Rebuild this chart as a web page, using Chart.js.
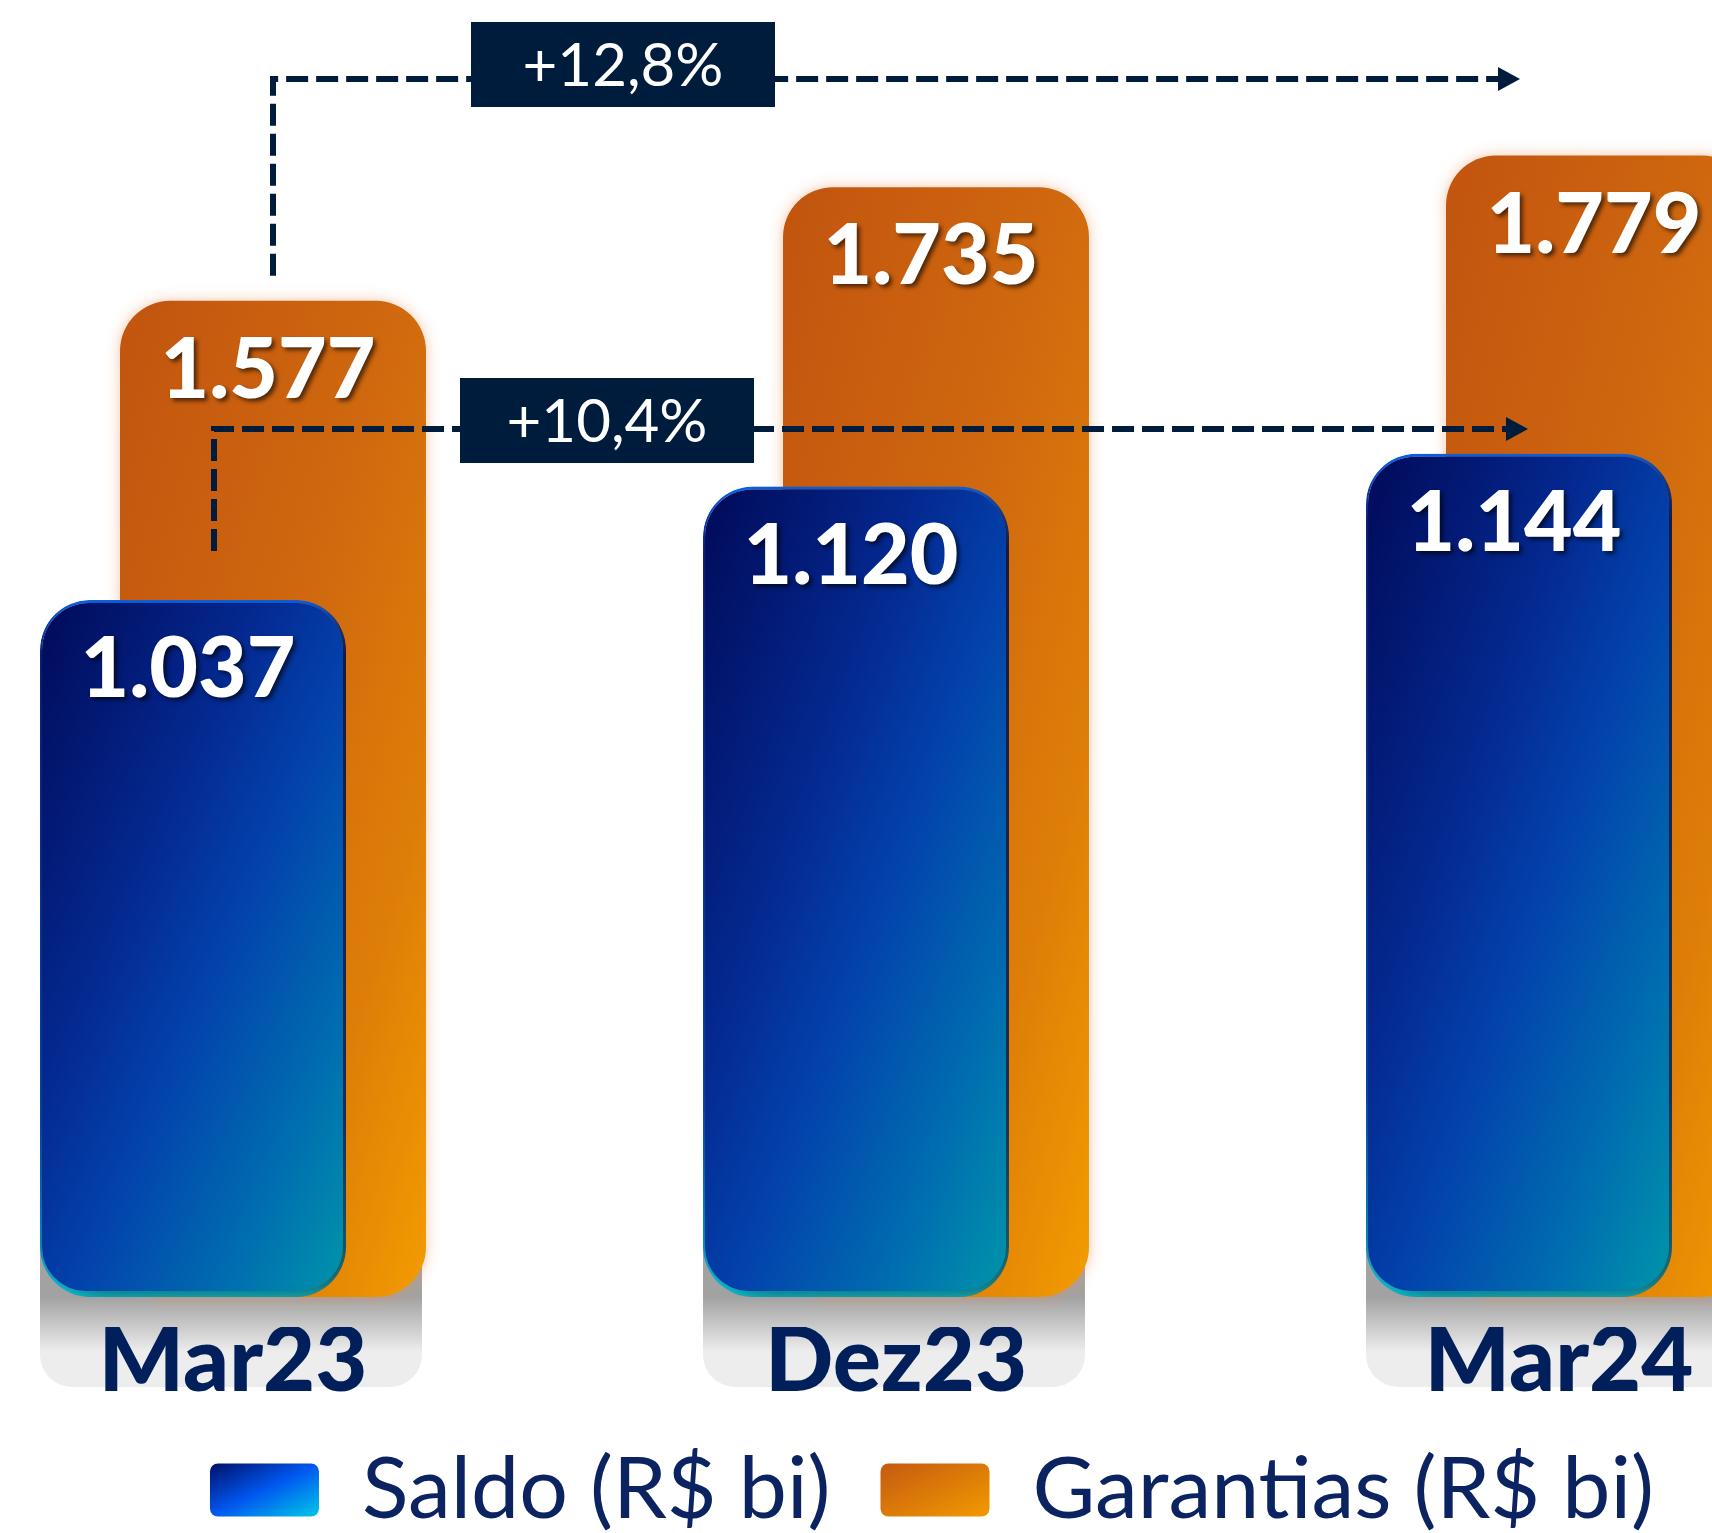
<!DOCTYPE html>
<html>
<head>
<meta charset="utf-8">
<script src="https://cdn.jsdelivr.net/npm/chart.js@4.4.1/dist/chart.umd.min.js"></script>
<style>
  html, body { margin: 0; padding: 0; background: #fff; overflow: hidden; }
  /* a few px taller than the window: the legend swatches are cut at the bottom edge in the original */
  #wrap { width: 1712px; height: 1543px; position: relative; }
</style>
</head>
<body>
<div id="wrap"><canvas id="grafico"></canvas></div>
<script>
const categorias = ['Mar23', 'Dez23', 'Mar24'];
const saldo = [1037, 1120, 1144];
const garantias = [1577, 1735, 1779];
const variacoes = ['+12,8%', '+10,4%'];

const azulTexto = '#001f5b';
const marinho = '#001c3c';

// the bars are not drawn to a common scale in the original, so each series gets its own hidden axis;
// bars start at "base", a little above the bottom of the plot area so the month labels sit under them
const eixoSaldo = { min: 505.05, max: 1476, base: 527 };
const eixoGarantias = { min: 151.32, max: 1995, base: 193 };

const CAT_PCT = 0.2413;
const BAR_PCT = 3.825;

function fmt(v) {
  return String(v).replace(/\B(?=(\d{3})+(?!\d))/g, '.');
}

// gradient from top-left to bottom-right corner, colour bands parallel to the other diagonal
function diagGrad(ctx, l, t, r, b, stops) {
  const w = r - l, h = b - t;
  const cx = (l + r) / 2, cy = (t + b) / 2;
  const k = w * h / (w * w + h * h);
  const g = ctx.createLinearGradient(cx - h * k, cy - w * k, cx + h * k, cy + w * k);
  stops.forEach(s => g.addColorStop(s[0], s[1]));
  return g;
}

function barBox(c) {
  const chart = c.chart;
  if (!chart.chartArea || c.type !== 'data') return null;
  const xs = chart.scales.x;
  const ys = chart.scales[c.dataset.yAxisID];
  const passo = xs.getPixelForValue(1) - xs.getPixelForValue(0);
  const pedaco = passo * CAT_PCT / 2;
  const cx = xs.getPixelForValue(c.dataIndex) + (c.datasetIndex === 0 ? -pedaco / 2 : pedaco / 2);
  const larg = pedaco * BAR_PCT;
  return { l: cx - larg / 2, r: cx + larg / 2, t: ys.getPixelForValue(c.parsed.y), b: ys.getPixelForValue(c.dataset.base) };
}

const stopsSaldo = [[0, '#010a58'], [0.35, '#04288f'], [0.55, '#0342ac'], [0.8, '#006eb0'], [1, '#0096aa']];
const stopsGarantias = [[0, '#c2540f'], [0.45, '#cf680f'], [0.75, '#de7e08'], [1, '#f39c00']];

function fundoSaldo(c) {
  const b = barBox(c);
  if (!b) return '#0340a8';
  return diagGrad(c.chart.ctx, b.l, b.t, b.r, b.b, stopsSaldo);
}
function bordaSaldo(c) {
  const b = barBox(c);
  if (!b) return '#0a5cff';
  const g = c.chart.ctx.createLinearGradient(0, b.t, 0, b.b);
  g.addColorStop(0, '#0a6aff');
  g.addColorStop(0.08, '#041e80');
  g.addColorStop(0.75, '#0446aa');
  g.addColorStop(0.93, '#0090c8');
  g.addColorStop(1, '#00e0ff');
  return g;
}
function fundoGarantias(c) {
  const b = barBox(c);
  if (!b) return '#d06a10';
  return diagGrad(c.chart.ctx, b.l, b.t, b.r, b.b, stopsGarantias);
}

const pontos = arr => arr.map((v, i) => ({ x: i, y: v }));

// grey plates under each group (drawn before the axis labels), and the bars' shadows
const placas = {
  id: 'placas',
  beforeDraw(chart) {
    const ctx = chart.ctx;
    const bb = chart.getDatasetMeta(0).data, ob = chart.getDatasetMeta(1).data;
    bb.forEach((b, i) => {
      const o = ob[i];
      const base = b.base;
      const l = b.x - b.width / 2, r = o.x + o.width / 2 - 4;
      const g = ctx.createLinearGradient(0, base, 0, base + 55);
      g.addColorStop(0, '#a2a2a2');
      g.addColorStop(1, '#ededed');
      ctx.save();
      ctx.fillStyle = g;
      ctx.beginPath();
      ctx.roundRect(l, base - 120, r - l, 210, 32);
      ctx.fill();
      ctx.restore();
    });
  },
  beforeDatasetDraw(chart, args) {
    const ctx = chart.ctx;
    ctx.save();
    if (args.index === 0) {
      ctx.shadowColor = 'rgba(40,20,0,0.6)';
      ctx.shadowBlur = 30;
      ctx.shadowOffsetX = 14;
      ctx.shadowOffsetY = 8;
    } else {
      ctx.shadowColor = 'rgba(240,140,80,0.5)';
      ctx.shadowBlur = 14;
    }
  },
  afterDatasetDraw(chart) {
    chart.ctx.restore();
  }
};

const rotulos = {
  id: 'rotulos',
  afterDatasetsDraw(chart) {
    const ctx = chart.ctx;
    ctx.save();
    ctx.font = '900 84px Lato';
    ctx.textAlign = 'center';
    ctx.textBaseline = 'middle';
    ctx.shadowColor = 'rgba(0,0,0,0.6)';
    ctx.shadowBlur = 4;
    ctx.shadowOffsetX = 3;
    ctx.shadowOffsetY = 3;
    ctx.fillStyle = '#fff';
    chart.data.datasets.forEach((ds, di) => {
      chart.getDatasetMeta(di).data.forEach((el, i) => {
        ctx.fillText(fmt(ds.data[i].y), el.x - 5, el.y + 70);
      });
    });
    ctx.restore();

    // dashed connectors with the growth boxes
    const bb = chart.getDatasetMeta(0).data, ob = chart.getDatasetMeta(1).data;
    const conectores = [
      { x0: ob[0].x, y0: ob[0].y - 25, y: 79, x1: bb[2].x + 1, caixa: [471, 22, 304, 85], txt: variacoes[0] },
      { x0: bb[0].x + 21, y0: bb[0].y - 49, y: 429, x1: bb[2].x + 9, caixa: [460, 378, 294, 85], txt: variacoes[1] }
    ];
    ctx.save();
    conectores.forEach(cn => {
      ctx.strokeStyle = marinho;
      ctx.fillStyle = marinho;
      ctx.lineWidth = 6;
      ctx.setLineDash([22, 8]);
      ctx.beginPath();
      ctx.moveTo(cn.x0, cn.y0);
      ctx.lineTo(cn.x0, cn.y);
      ctx.lineTo(cn.x1 - 20, cn.y);
      ctx.stroke();
      ctx.setLineDash([]);
      ctx.beginPath();
      ctx.moveTo(cn.x1, cn.y);
      ctx.lineTo(cn.x1 - 22, cn.y - 12);
      ctx.lineTo(cn.x1 - 22, cn.y + 12);
      ctx.closePath();
      ctx.fill();
      const [bx, by, bw, bh] = cn.caixa;
      ctx.fillRect(bx, by, bw, bh);
      ctx.fillStyle = '#fff';
      ctx.font = '400 60px Lato';
      ctx.textAlign = 'center';
      ctx.textBaseline = 'middle';
      ctx.fillText(cn.txt, bx + bw / 2, by + bh / 2 + 2);
    });
    ctx.restore();
  },
  beforeDraw(chart) {
    // legend swatches get the same gradients as the bars
    const lg = chart.legend;
    if (!lg || !lg.legendHitBoxes) return;
    const ctx = chart.ctx;
    const bw = lg.options.labels.boxWidth, bh = lg.options.labels.boxHeight, fs = lg.options.labels.font.size;
    lg.legendItems.forEach((it, i) => {
      const hb = lg.legendHitBoxes[i];
      const t = hb.top + (fs - bh) / 2;
      it.fillStyle = diagGrad(ctx, hb.left, t, hb.left + bw, t + bh,
        i === 0 ? [[0, '#000f6a'], [0.5, '#0058f0'], [1, '#00c8e8']] : [[0, '#c45a10'], [1, '#f29a00']]);
    });
  }
};

new Chart(document.getElementById('grafico'), {
  type: 'bar',
  data: {
    datasets: [
      {
        label: 'Saldo (R$ bi)',
        data: pontos(saldo),
        yAxisID: 'yS',
        base: eixoSaldo.base,
        backgroundColor: fundoSaldo,
        borderColor: bordaSaldo,
        borderWidth: { top: 3, left: 2, right: 3, bottom: 6 },
        borderRadius: 50,
        borderSkipped: false,
        clip: false
      },
      {
        label: 'Garantias (R$ bi)',
        data: pontos(garantias),
        yAxisID: 'yG',
        base: eixoGarantias.base,
        backgroundColor: fundoGarantias,
        borderWidth: 0,
        borderRadius: 50,
        borderSkipped: false,
        clip: false
      }
    ]
  },
  options: {
    responsive: true,
    maintainAspectRatio: false,
    animation: false,
    events: [],
    categoryPercentage: CAT_PCT,
    barPercentage: BAR_PCT,
    layout: { padding: { left: 152, right: 0, top: 0, bottom: 0 } },
    scales: {
      x: {
        type: 'linear',
        min: -0.12217,
        max: 2.23077,
        offset: false,
        grid: { display: false, drawTicks: false },
        border: { display: false },
        afterBuildTicks: ax => { ax.ticks = categorias.map((_, i) => ({ value: i })); },
        ticks: {
          callback: v => categorias[v],
          color: azulTexto,
          font: { family: 'Lato', weight: '900', size: 90, lineHeight: 0.778 },
          padding: 0,
          autoSkip: false,
          maxRotation: 0,
          minRotation: 0
        }
      },
      yS: { type: 'linear', position: 'left', display: false, min: eixoSaldo.min, max: eixoSaldo.max },
      yG: { type: 'linear', position: 'left', display: false, min: eixoGarantias.min, max: eixoGarantias.max }
    },
    plugins: {
      tooltip: { enabled: false },
      legend: {
        position: 'bottom',
        labels: {
          boxWidth: 109,
          boxHeight: 53,
          padding: 50,
          color: '#0b2461',
          font: { family: 'Lato', size: 86 },
          useBorderRadius: true,
          borderRadius: 8,
          generateLabels: chart => chart.data.datasets.map((ds, i) => ({
            text: ds.label,
            fillStyle: i === 0 ? '#0340a8' : '#d8740b',
            strokeStyle: 'rgba(0,0,0,0)',
            lineWidth: 0,
            borderRadius: 8,
            datasetIndex: i,
            hidden: false,
            fontColor: '#0b2461'
          }))
        }
      }
    }
  },
  plugins: [placas, rotulos]
});
</script>
</body>
</html>
